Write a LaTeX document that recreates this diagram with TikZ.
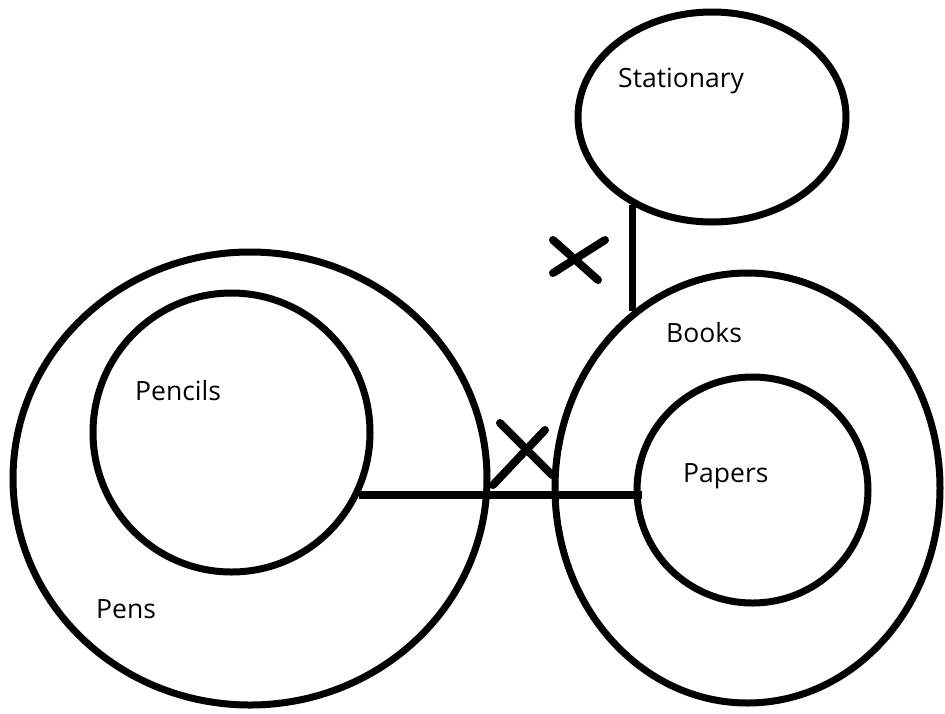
\documentclass[tikz,border=0pt]{standalone}
\usepackage{fontspec}
\setmainfont{Open Sans}
\usetikzlibrary{shapes.geometric}
\begin{document}
\begin{tikzpicture}[x=1pt,y=-1pt,
  ring/.style={draw=black,line width=7pt,ellipse,inner sep=0pt},
  link/.style={draw=black,line width=7pt},
  cross/.style={draw=black,line width=8pt,line cap=round},
  lbl/.style={anchor=base west,inner sep=0pt,font=\fontsize{26.5}{30}\selectfont,text=black}]
\useasboundingbox (0,0) rectangle (945,713);
% shapes
\node[ring,minimum width=268pt,minimum height=210pt] (stat) at (712,117) {};
\node[ring,minimum width=474pt,minimum height=453pt] (pens) at (250,478.5) {};
\node[ring,minimum width=277pt,minimum height=279pt] (pencils) at (231.5,432.5) {};
\node[ring,minimum width=385pt,minimum height=430pt] (books) at (747.5,488) {};
\node[ring,minimum width=231pt,minimum height=226pt] (papers) at (752.5,490) {};
% labels
\node[lbl] (tstat) at (618,87) {Stationary};
\node[lbl] (tpencils) at (135,400) {Pencils};
\node[lbl] (tpens) at (96,618) {Pens};
\node[lbl] (tbooks) at (666,342) {Books};
\node[lbl] (tpapers) at (683,482) {Papers};
% connectors
\draw[link] (stat.228.2) -- (stat.228.2 |- books.123);
\draw[link,line width=8pt] (pencils.-26.8) -- ([xshift=8pt]papers.west |- pencils.-26.8);
% crosses
\draw[cross] (553,240) -- (598,280);
\draw[cross] (605,240) -- (553,273);
\draw[cross] (500,423) -- (552,475);
\draw[cross] (545,430) -- (493,485);
\end{tikzpicture}
\end{document}
